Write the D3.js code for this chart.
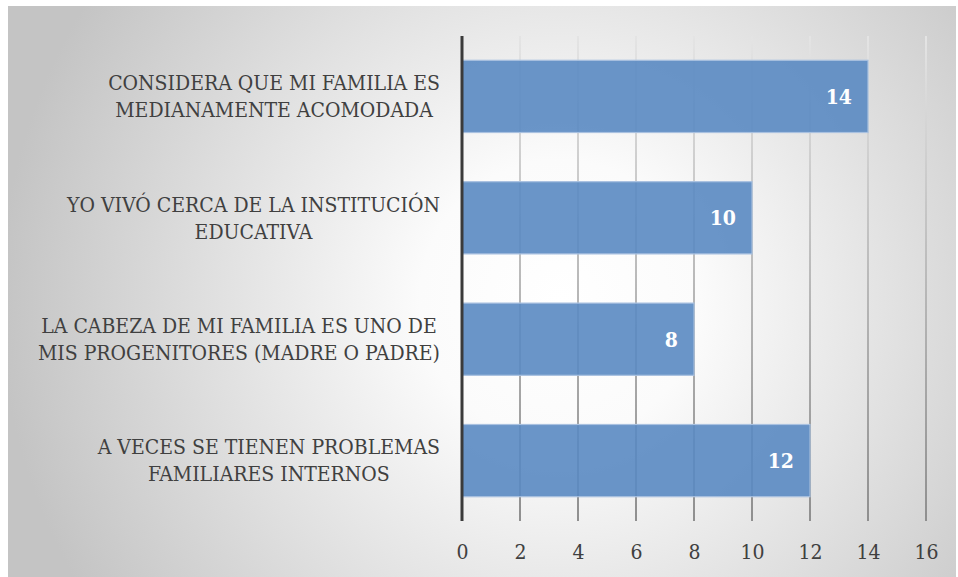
<!DOCTYPE html>
<html><head><meta charset="utf-8">
<script src="https://cdn.jsdelivr.net/npm/d3@7"></script>
<style>html,body{margin:0;padding:0;background:#fff;}svg{display:block;}
svg text{font-family:"DejaVu Serif",serif;font-stretch:condensed;}</style>
</head><body>
<svg id="c" width="958" height="577"></svg>
<script>
const categories = [
  ["CONSIDERA QUE MI FAMILIA ES", "MEDIANAMENTE ACOMODADA"],
  ["YO VIVÓ CERCA DE LA INSTITUCIÓN", "EDUCATIVA"],
  ["LA CABEZA DE MI FAMILIA ES UNO DE", "MIS PROGENITORES (MADRE O PADRE)"],
  ["A VECES SE TIENEN PROBLEMAS", "FAMILIARES INTERNOS"]
];
const values = [14, 10, 8, 12];
const tickValues = [0, 2, 4, 6, 8, 10, 12, 14, 16];

const W = 958, H = 577;
const svg = d3.select("#c");
const defs = svg.append("defs");
const bg = defs.append("radialGradient").attr("id", "bg")
  .attr("gradientUnits", "userSpaceOnUse")
  .attr("cx", 560).attr("cy", 300).attr("r", 560);
bg.append("stop").attr("offset", "0").attr("stop-color", "#ffffff");
bg.append("stop").attr("offset", "0.25").attr("stop-color", "#fbfbfb");
bg.append("stop").attr("offset", "1").attr("stop-color", "#c4c4c4");

const plotTop = 36, plotBottom = 521, x0 = 462, x1 = 926;
const gg = defs.append("linearGradient").attr("id", "grid")
  .attr("gradientUnits", "userSpaceOnUse")
  .attr("x1", 0).attr("y1", plotTop).attr("x2", 0).attr("y2", plotBottom);
gg.append("stop").attr("offset", "0").attr("stop-color", "#e4e4e4");
gg.append("stop").attr("offset", "1").attr("stop-color", "#8f8f8f");

svg.append("rect").attr("x", 8).attr("y", 6).attr("width", 948).attr("height", 571)
  .attr("fill", "url(#bg)");

const x = d3.scaleLinear().domain([0, 16]).range([x0, x1]);
const y = d3.scaleBand().domain(d3.range(categories.length))
  .range([plotTop, plotBottom]).paddingInner(0.405).paddingOuter(0.2);

svg.append("g").selectAll("line").data(tickValues.filter(d => d > 0)).join("line")
  .attr("x1", d => x(d)).attr("x2", d => x(d))
  .attr("y1", plotTop).attr("y2", plotBottom)
  .attr("stroke", "url(#grid)").attr("stroke-width", 2);

svg.append("g").selectAll("rect").data(values).join("rect")
  .attr("x", x(0)).attr("y", (d, i) => y(i))
  .attr("width", d => x(d) - x(0)).attr("height", y.bandwidth())
  .attr("fill", "#5a89c2").attr("fill-opacity", 0.9)
  .attr("stroke", "#a9c1e0").attr("stroke-width", 1.2);

svg.append("g").selectAll("text").data(values).join("text")
  .attr("x", d => x(d) - 16).attr("y", (d, i) => y(i) + y.bandwidth() / 2)
  .attr("dy", "0.35em").attr("text-anchor", "end")
  .attr("font-weight", "bold")
  .attr("font-size", 21).attr("fill", "#ffffff").text(d => d);

svg.append("line").attr("x1", x0).attr("x2", x0).attr("y1", plotTop).attr("y2", plotBottom)
  .attr("stroke", "#3a3a3a").attr("stroke-width", 3);

const xAxis = d3.axisBottom(x).tickValues(tickValues).tickSize(0).tickPadding(0);
const gx = svg.append("g").attr("transform", `translate(0,${plotBottom})`).call(xAxis);
gx.select(".domain").remove();
gx.attr("font-family", null);
gx.selectAll("text").attr("y", 38).attr("dy", 0)
  .attr("font-size", 21).attr("fill", "#404040");

const labelRight = 440, lineH = 27;
const lg = svg.append("g").attr("font-size", 21).attr("fill", "#404040");
categories.forEach((lines, i) => {
  const cy = y(i) + y.bandwidth() / 2;
  const g = lg.append("g");
  const ts = lines.map((t, k) => g.append("text")
    .attr("y", cy + (k - (lines.length - 1) / 2) * lineH).attr("dy", "0.35em")
    .attr("text-anchor", "middle").text(t));
  const maxW = d3.max(ts, t => t.node().getComputedTextLength());
  ts.forEach(t => t.attr("x", labelRight - maxW / 2));
});
</script>
</body></html>
